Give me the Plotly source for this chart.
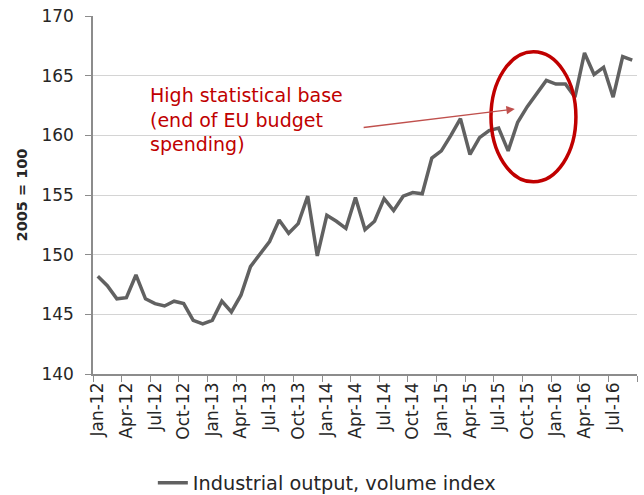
import plotly.graph_objects as go

months = ["Jan", "Feb", "Mar", "Apr", "May", "Jun", "Jul", "Aug", "Sep", "Oct", "Nov", "Dec"]
categories = [f"{m}-{y}" for y in ["12", "13", "14", "15", "16"] for m in months][:57]

industrial_output = [
    148.2, 147.4, 146.3, 146.4, 148.3, 146.3, 145.9, 145.7, 146.1, 145.9, 144.5, 144.2,
    144.5, 146.1, 145.2, 146.6, 149.0, 150.1, 151.1, 152.9, 151.8, 152.6, 154.9, 149.9,
    153.3, 152.8, 152.2, 154.8, 152.1, 152.8, 154.7, 153.7, 154.9, 155.2, 155.1, 158.1,
    158.7, 160.0, 161.4, 158.4, 159.8, 160.4, 160.6, 158.7, 161.1, 162.4, 163.5, 164.6,
    164.3, 164.3, 163.2, 166.9, 165.1, 165.7, 163.2, 166.6, 166.3,
]

series_name = "Industrial output, volume index"
y_title = "2005 = 100"
annotation_text = "High statistical base<br>(end of EU budget<br>spending)"
y_ticks = [140, 145, 150, 155, 160, 165, 170]

x_idx = list(range(len(categories)))
label_idx = x_idx[::3]
label_text = [categories[i] for i in label_idx]

FONT = "DejaVu Sans, Verdana, sans-serif"

fig = go.Figure()
fig.add_trace(go.Scatter(
    x=x_idx, y=industrial_output, mode="lines", name=series_name,
    line=dict(color="#616161", width=3.5),
))

fig.update_layout(
    width=644, height=495,
    margin=dict(l=93, r=7, t=16, b=121),
    paper_bgcolor="white", plot_bgcolor="white",
    font=dict(family=FONT, color="#333333"),
    showlegend=True,
    legend=dict(
        orientation="h", x=0.11, xanchor="left",
        yref="container", y=0.024, yanchor="middle",
        font=dict(size=19.3, color="#262626", family=FONT),
        bgcolor="rgba(0,0,0,0)",
    ),
    xaxis=dict(
        range=[-0.5, len(categories) - 0.5],
        tickmode="array", tickvals=label_idx, ticktext=label_text,
        tickangle=-90, ticks="", showgrid=False, zeroline=False,
        tickfont=dict(size=17, color="#262626", family=FONT),
        showline=True, linecolor="#8c8c8c", linewidth=1.5,
        minor=dict(tickmode="linear", tick0=-0.5, dtick=3, ticks="outside",
                   ticklen=6, tickcolor="#8c8c8c", tickwidth=1.3, showgrid=False),
    ),
    yaxis=dict(
        range=[140, 170], tickmode="array", tickvals=y_ticks,
        ticks="outside", ticklen=6, tickcolor="#8c8c8c", tickwidth=1.3,
        ticklabelstandoff=8,
        tickfont=dict(size=17, color="#262626", family=FONT),
        showgrid=True, gridcolor="#d4d4d4", gridwidth=1.2,
        showline=True, linecolor="#8c8c8c", linewidth=1.5, zeroline=False,
        title=dict(text=f"<b>{y_title}</b>", font=dict(size=14.5, color="#262626", family=FONT), standoff=10),
    ),
)

# red ellipse
fig.add_shape(type="circle", xref="x", yref="y",
              x0=41.2, x1=50.1, y0=156.1, y1=167.0,
              line=dict(color="#C00000", width=3.5))

# arrow
fig.add_annotation(x=43.7, y=162.2, ax=27.7, ay=160.64, xref="x", yref="y",
                   axref="x", ayref="y", text="", showarrow=True,
                   arrowhead=2, arrowsize=1.3, arrowwidth=1.3, arrowcolor="#C0504D")

# text
fig.add_annotation(x=5.3, y=164.5, xref="x", yref="y", xanchor="left", yanchor="top",
                   text=annotation_text, showarrow=False, align="left",
                   font=dict(size=19, color="#C00000", family=FONT))

fig.write_html("out.html", config={"displayModeBar": False},
               post_script="document.body.style.margin='0px';")
